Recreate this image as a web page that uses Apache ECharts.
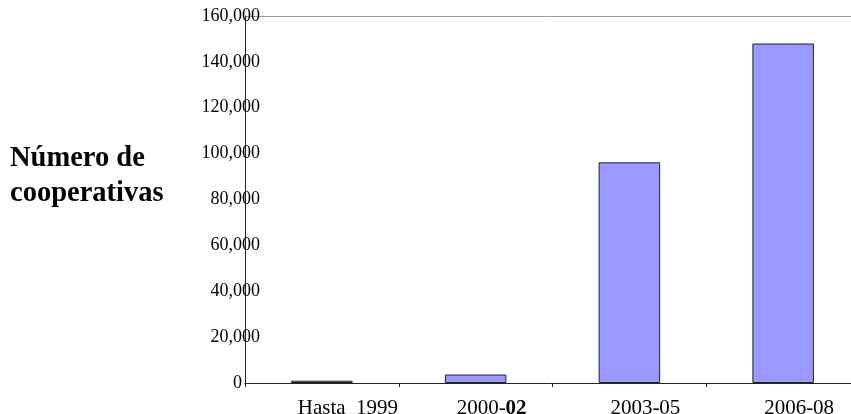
<!DOCTYPE html>
<html>
<head>
<meta charset="utf-8">
<script src="https://cdn.jsdelivr.net/npm/echarts@6/dist/echarts.min.js"></script>
<style>
html,body{margin:0;padding:0;background:#fff;}
#c{width:851px;height:414px;}
</style>
</head>
<body>
<div id="c"></div>
<script>
const categories = ['Hasta  1999', '2000-02', '2003-05', '2006-08'];
const values = [1000, 3700, 96200, 148000];
const yTicks = { min: 0, max: 160000, interval: 20000 };
const titleText = 'Número de\ncooperativas';

const serif = '"Liberation Serif", "Times New Roman", serif';
const chart = echarts.init(document.getElementById('c'));
const splitColors = [];
for (let i = 0; i < 8; i++) splitColors.push('rgba(0,0,0,0)');
splitColors.push('#9a9a9a');

chart.setOption({
  animation: false,
  backgroundColor: '#fff',
  title: {
    text: titleText,
    left: 10,
    top: 141,
    padding: 0,
    textStyle: { fontFamily: serif, fontWeight: 'bold', fontSize: 28.5, lineHeight: 35, color: '#000' }
  },
  grid: { left: 245, width: 615, top: 16, bottom: 31, containLabel: false, outerBoundsMode: 'none' },
  xAxis: {
    type: 'category',
    data: categories,
    axisLine: { show: true, lineStyle: { color: '#222', width: 1 } },
    axisTick: { show: true, length: 4, lineStyle: { color: '#222' } },
    axisLabel: {
      margin: 15,
      padding: [0, 0, 0, 32],
      fontFamily: serif,
      fontSize: 21,
      color: '#000',
      interval: 0,
      formatter: (v, i) => i === 0 ? '{h|' + v + '}' : (v === '2000-02' ? '{n|2000-}{b|02}' : v),
      rich: {
        h: { fontFamily: serif, fontSize: 21, fontWeight: 'normal', color: '#000', padding: [0, 0, 0, 20] },
        n: { fontFamily: serif, fontSize: 21, fontWeight: 'normal', color: '#000' },
        b: { fontFamily: serif, fontSize: 21, fontWeight: 'bold', color: '#000' }
      }
    }
  },
  yAxis: {
    type: 'value',
    min: yTicks.min,
    max: yTicks.max,
    interval: yTicks.interval,
    axisLine: { show: true, lineStyle: { color: '#222', width: 1 } },
    axisTick: { show: false },
    splitLine: { show: true, lineStyle: { color: splitColors, width: 1 } },
    axisLabel: {
      margin: -15,
      fontFamily: serif,
      fontSize: 18,
      color: '#000',
      formatter: v => v === 0 ? '{z|0}' : v.toLocaleString('en-US'),
      rich: { z: { fontFamily: serif, fontSize: 18, color: '#000', padding: [0, 18, 0, 0] } }
    }
  },
  series: [{
    type: 'bar',
    data: values,
    barWidth: '40%',
    itemStyle: { color: '#9999ff', borderColor: '#222', borderWidth: 1 }
  }]
});
</script>
</body>
</html>
